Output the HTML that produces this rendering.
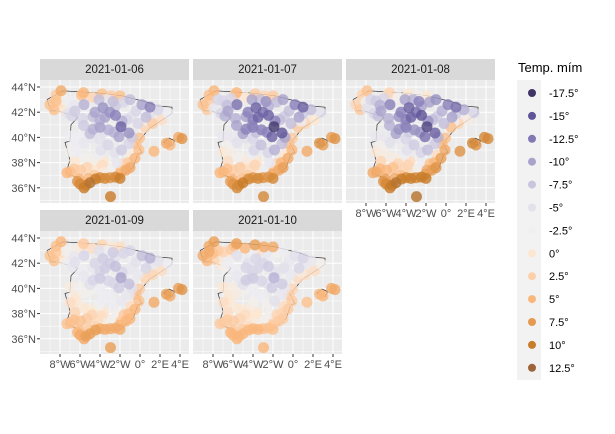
<!DOCTYPE html>
<html><head><meta charset="utf-8"><style>
body{margin:0;background:#fff;font-family:"Liberation Sans",sans-serif}
svg{display:block}
</style></head><body>
<svg id="c" width="615" height="434" xmlns="http://www.w3.org/2000/svg"></svg>
<script>
const dates=["2021-01-06","2021-01-07","2021-01-08","2021-01-09","2021-01-10"];
const lons=[-8.4,-8.4,-8.6,-7.9,-7.5,-6.6,-5.85,-5.65,-3.8,-2.9,-2.0,-1.65,-2.7,-3.7,-5.6,-4.5,-4.7,-5.75,-5.65,-2.45,-2.45,-0.9,-0.4,0.6,2.8,2.15,1.25,-1.1,-0.05,-0.4,-0.5,-1.15,-1.85,-2.1,-3.15,-3.7,-4.1,-4.7,-4.0,-3.9,-6.35,-6.95,-6.35,-6.95,-5.95,-4.8,-3.8,-3.6,-2.45,-4.45,-6.25,-6.1,-5.6,-3.5,-1.0,-2.95,2.65,4.2,1.4,1.0,-1.9,-6.1,-4.8,-4.1,-3.6,-2.8,-1.9,-1.1,-4.0,-4.1,-7.2,-4.55,-5.15,-5.0,-2.0,-7.3,-1.3,0.5,3.85,-7.9,
 -9.0,-8.0,-7.0,-6.2,-4.8,-3.3,-1.0,0.2,1.8,-3.0,-6.5,-6.8,-4.0,-3.5,-1.8,-0.2,1.0,-5.0,-2.6,-0.8,-7.0,-5.6,-3.2,-2.5,-0.9,-5.5,-6.5,-4.6,-2.3,-1.6,-5.3,-4.2,-2.0,-6.6,-3.0,-5.4,-4.0,-6.0,-1.4,3.0,-0.1,0.8];
const lats=[43.35,42.9,42.2,42.3,43.0,42.55,43.35,43.55,43.45,43.3,43.3,42.8,42.85,42.35,42.6,42.0,41.65,41.5,40.95,41.75,42.45,41.65,42.1,41.6,41.95,41.4,41.1,40.35,39.95,39.5,38.35,38.0,39.0,40.05,40.6,40.4,40.95,40.65,39.85,38.98,39.45,38.88,38.9,37.25,37.4,37.9,37.8,37.2,36.85,36.7,36.5,36.7,36.0,36.75,37.6,35.3,39.55,39.9,38.9,42.4,40.85,40.05,39.95,38.7,38.1,37.5,37.4,39.5,40.8,43.0,41.9,37.0,36.75,36.4,36.75,37.2,41.4,40.8,40.0,43.7,
 42.6,42.8,42.9,43.1,43.2,43.0,43.0,42.6,42.2,42.0,42.1,41.7,41.4,41.6,41.3,41.1,41.9,40.3,40.4,40.0,40.1,39.6,39.4,38.8,38.6,38.4,38.1,38.3,38.0,37.9,37.6,37.5,37.1,37.5,36.8,36.2,36.8,36.3,37.4,39.4,39.0,41.3];
const t06=[3,4,4,0,-2,-4,4,5,4,3,4,-6,-8,-11,-9,-10,-8,-6,-7,-12,-7,-5,-6,-8,-3,1,3,-11,4,4,5,3,-7,-10,-9,-5,-7,-9,-5,-5,-3,-2,-3,4,3,0,1,-1,9,10,8,5,10,9,6,10,6,8,5,-12,-14,-3,-4,-3,0,-2,4,-6,-10,-8,-5,3,5,11,10,5,-6,2,6,6,
 4,1,-3,-2,2,-4,-8,-10,-6,-11,-7,-6,-9,-10,-9,-6,-5,-8,-9,-7,-3,-4,-6,-5,-1,-2,0,-2,-4,2,2,0,5,3,8,9,9,9,6,5,4,-2];
const t07=[4,3,3,-4,-6,-8,2,5,3,2,3,-8,-11,-14,-13,-12,-10,-9,-10,-14,-9,-7,-8,-10,-5,0,2,-15,3,4,6,5,-9,-14,-12,-8,-11,-12,-6,-6,-2,0,-1,5,3,1,2,0,8,9,7,5,9,9,7,9,8,8,6,-14,-17,-4,-5,-3,0,-3,4,-8,-12,-10,-6,3,4,10,9,5,-8,3,7,5,
 4,-2,-6,-6,0,-8,-10,-12,-8,-13,-10,-9,-12,-14,-12,-8,-7,-10,-12,-10,-4,-5,-8,-6,0,-2,1,-1,-4,3,3,1,6,4,8,9,8,8,6,7,5,-3];
const t08=[2,1,3,-5,-6,-9,0,2,0,-2,0,-10,-12,-14,-12,-12,-11,-9,-9,-15,-10,-7,-9,-10,-6,-1,2,-14,4,5,7,5,-8,-13,-11,-7,-10,-11,-6,-5,-2,0,-1,6,5,2,2,1,10,10,8,7,10,10,8,11,9,9,8,-13,-16,-4,-4,-3,1,-2,6,-7,-12,-10,-6,4,6,11,10,6,-8,4,9,4,
 2,-3,-7,-6,-2,-9,-11,-12,-9,-13,-10,-8,-12,-14,-11,-8,-7,-10,-11,-9,-4,-5,-7,-6,1,-1,2,-1,-3,4,4,2,7,5,9,10,9,9,7,8,6,-3];
const t09=[4,3,4,-1,-2,-4,1,3,2,0,1,-6,-7,-7,-6,-6,-4,-3,-4,-8,-5,-4,-5,-6,-3,1,2,-8,3,4,5,4,-4,-7,-6,-3,-5,-6,-3,-3,0,1,0,4,4,2,1,-1,6,7,5,4,6,6,5,7,7,8,6,-9,-10,-2,-2,-2,0,-2,3,-4,-7,-5,-3,2,3,7,6,4,-4,2,7,5,
 4,1,-2,-1,1,-3,-6,-8,-5,-7,-5,-4,-6,-7,-6,-4,-4,-5,-6,-5,-1,-2,-3,-3,1,0,2,0,-2,3,3,1,5,4,6,7,6,6,5,6,4,-1];
const t10=[6,6,5,2,3,0,4,7,7,6,6,-2,-4,-6,-5,-5,-6,-3,-4,-7,-3,-5,-4,-6,-2,1,1,-7,2,3,3,2,-5,-7,-6,-3,-6,-7,-3,-2,0,1,0,3,3,1,0,-1,4,5,5,3,5,5,3,5,5,6,4,-6,-9,-1,-2,-1,0,-2,2,-4,-7,-3,0,1,3,5,4,3,-4,1,6,7,
 6,4,2,3,5,1,-3,-5,-4,-6,-3,-2,-6,-6,-5,-4,-4,-5,-5,-4,0,-1,-3,-2,1,0,1,0,-2,2,2,0,3,3,4,5,5,5,3,5,3,-1];
const temps=[t06,t07,t08,t09,t10];
const legendVals=[-17.5,-15,-12.5,-10,-7.5,-5,-2.5,0,2.5,5,7.5,10,12.5];
const legendLabels=["-17.5°","-15°","-12.5°","-10°","-7.5°","-5°","-2.5°","0°","2.5°","5°","7.5°","10°","12.5°"];
const legendCols=["#3f3466","#5e5497","#8279b4","#a9a3cc","#c9c5df","#e2e1ec","#f0f0f2","#fce6d2","#fdd0aa","#fab77c","#e59a4f","#c87d2a","#9c6438"];
const lonTicks=[-8,-6,-4,-2,0,2,4];
const lonLabels=["8°W","6°W","4°W","2°W","0°","2°E","4°E"];
const latTicks=[36,38,40,42,44];
const latLabels=["36°N","38°N","40°N","42°N","44°N"];
const outline=[[-9.3,43.0],[-8.9,42.1],[-8.2,42.1],[-6.2,41.6],[-6.9,41.0],[-7.0,39.7],[-7.5,39.6],[-7.0,38.2],[-7.4,37.2],[-6.3,36.8],[-5.6,36.0],[-4.4,36.7],[-2.1,36.7],[-0.7,37.6],[-0.2,38.7],[0.2,38.8],[-0.3,39.5],[0.9,40.7],[3.2,41.9],[3.2,42.4],[1.7,42.5],[0.7,42.8],[-1.8,43.3],[-3.8,43.5],[-5.8,43.6],[-7.7,43.7],[-9.3,43.0]];
const mallorca=[[2.35,39.6],[2.9,39.95],[3.45,39.75],[3.2,39.35],[2.7,39.5],[2.35,39.6]];

const NS="http://www.w3.org/2000/svg";
const svg=document.getElementById('c');
function mk(tag,attrs,parent){const e=document.createElementNS(NS,tag);for(const k in attrs)e.setAttribute(k,attrs[k]);(parent||svg).appendChild(e);return e;}
function hex(h){return [1,3,5].map(i=>parseInt(h.substr(i,2),16));}
function color(t){
  if(t<=legendVals[0])return legendCols[0];
  for(let i=0;i<legendVals.length-1;i++){if(t<=legendVals[i+1]){const f=(t-legendVals[i])/(legendVals[i+1]-legendVals[i]);const a=hex(legendCols[i]),b=hex(legendCols[i+1]);return 'rgb('+a.map((v,j)=>Math.round(v+(b[j]-v)*f)).join(',')+')';}}
  return legendCols[legendCols.length-1];
}
const PW=149,PH=123;
const colX=[40,193,346],rowY=[80,231];
function xs(px,lon){return px+20+(lon+8)*10;}
function ys(py,lat){return py+7+(44-lat)*12.6;}
dates.forEach((d,k)=>{
  const c=k%3,r=Math.floor(k/3),px=colX[c],py=rowY[r];
  const g=mk('g',{});
  
  
  const st=mk('rect',{x:px,y:py-21,width:PW,height:21,fill:'#d9d9d9'},g);
  
  const tt=mk('text',{x:px+PW/2,y:py-7,'text-anchor':'middle','font-size':'11.5',fill:'#1a1a1a'},g);tt.textContent=d;
  
  mk('rect',{x:px,y:py,width:PW,height:PH,fill:'#ebebeb'},g);
  for(let lo=-9;lo<=5;lo+=2){const x=xs(px,lo);if(x>px&&x<px+PW)mk('line',{x1:x,x2:x,y1:py,y2:py+PH,stroke:'#fff','stroke-width':0.5},g);}
  for(let la=35;la<=45;la+=2){const y=ys(py,la);if(y>py&&y<py+PH)mk('line',{x1:px,x2:px+PW,y1:y,y2:y,stroke:'#fff','stroke-width':0.5},g);}
  lonTicks.forEach(lo=>{const x=xs(px,lo);mk('line',{x1:x,x2:x,y1:py,y2:py+PH,stroke:'#fff','stroke-width':1},g);});
  latTicks.forEach(la=>{const y=ys(py,la);mk('line',{x1:px,x2:px+PW,y1:y,y2:y,stroke:'#fff','stroke-width':1},g);});
  [outline,mallorca].forEach(o=>{const p=mk('path',{d:o.map((q,i)=>(i?'L':'M')+xs(px,q[0]).toFixed(1)+','+ys(py,q[1]).toFixed(1)).join(''),fill:'none',stroke:'#333','stroke-width':0.7},g);});
  const tv=temps[k];
  const order=lons.map((_,i)=>i).sort((a,b)=>Math.abs(tv[a])-Math.abs(tv[b]));
  order.forEach(i=>{const cc=mk('circle',{cx:xs(px,lons[i]),cy:ys(py,lats[i]),r:5.5,fill:color(tv[i]),'fill-opacity':0.82},g);
    });
  if(c===0){latTicks.forEach((la,i)=>{const y=ys(py,la);mk('line',{x1:px-3,x2:px,y1:y,y2:y,stroke:'#333'},g);const t=mk('text',{x:px-4,y:y+4,'text-anchor':'end','font-size':'11',fill:'#4d4d4d'},g);t.textContent=latLabels[i];});}
  if(r===1||k===2){lonTicks.forEach((lo,i)=>{const x=xs(px,lo);mk('line',{x1:x,x2:x,y1:py+PH,y2:py+PH+3,stroke:'#333'},g);const t=mk('text',{x:x,y:py+PH+14,'text-anchor':'middle','font-size':'11',fill:'#4d4d4d'},g);t.textContent=lonLabels[i];});}
});
const lg=mk('g',{});

const lt=mk('text',{x:518,y:72,'font-size':'13',fill:'#000'},lg);lt.textContent='Temp. mím';

mk('rect',{x:517,y:80,width:24,height:300,fill:'#f2f2f2'},lg);
legendVals.forEach((v,i)=>{const y=93+i*22.9;
  const c=mk('circle',{cx:532,cy:y,r:4,fill:legendCols[i]},lg);
  const t=mk('text',{x:549,y:y+4,'font-size':'11',fill:'#000'},lg);t.textContent=legendLabels[i];});
</script>
</body></html>
